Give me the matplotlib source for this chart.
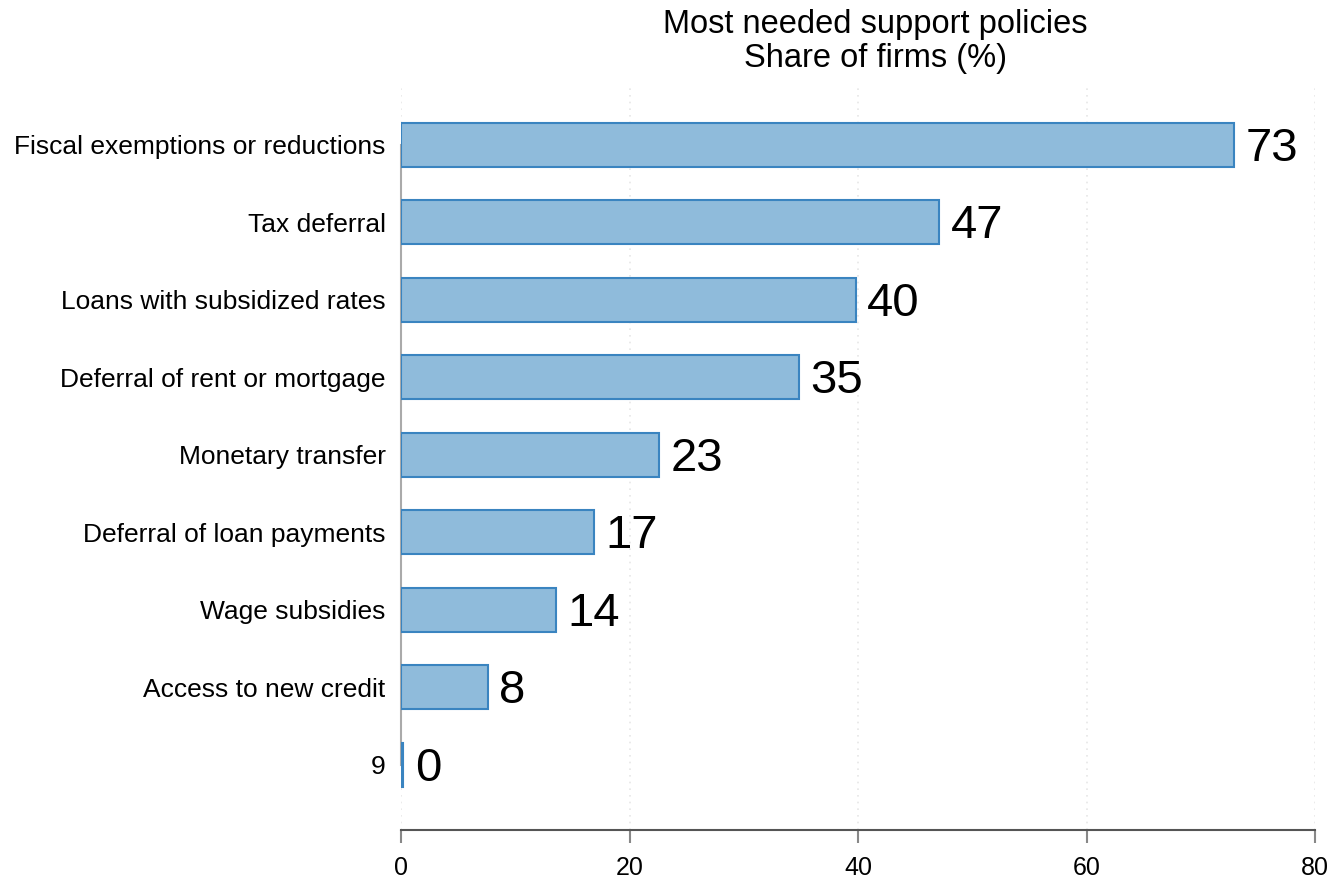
import matplotlib
matplotlib.use('Agg')
import matplotlib.pyplot as plt

# share of firms naming each policy as most needed
policies = ['Fiscal exemptions or reductions', 'Tax deferral', 'Loans with subsidized rates',
            'Deferral of rent or mortgage', 'Monetary transfer', 'Deferral of loan payments',
            'Wage subsidies', 'Access to new credit', '9']
shares = [72.9, 47.1, 39.8, 34.8, 22.6, 16.9, 13.6, 7.6, 0.2]
xticks = [0, 20, 40, 60, 80]

plt.rcParams['font.family'] = ['Liberation Sans', 'DejaVu Sans']

fig = plt.figure(figsize=(13.35, 8.81), dpi=100)
ax = fig.add_axes([401 / 1335, 1 - 830 / 881, 914 / 1335, 745 / 881])

pos = list(range(len(policies)))
ax.barh(pos, shares, height=0.57, color='#8fbbdb', edgecolor='#3a84c0', linewidth=1.5, zorder=3)
for p, v in zip(pos, shares):
    ax.text(v + 1.0, p + 0.05, f'{v:.0f}', va='center', ha='left', fontsize=34, zorder=4)

ax.set_ylim(len(policies) - 1 + 0.84, -0.77)
ax.set_xlim(0, 80)
ax.set_yticks(pos)
ax.set_yticklabels(policies, fontsize=19)
ax.set_xticks(xticks)
ax.set_xticklabels([str(t) for t in xticks], fontsize=18)

# dotted vertical grid like a stata graph
for t in xticks:
    ax.axvline(t, color='#e6e6e6', linestyle=(0, (1, 3)), linewidth=1.2, zorder=1)

for s in ['top', 'right']:
    ax.spines[s].set_visible(False)
ax.spines['left'].set_bounds(0, len(policies) - 1)
ax.spines['left'].set_color('#aaaaaa')
ax.spines['left'].set_linewidth(1.5)
ax.spines['bottom'].set_color('#555555')
ax.spines['bottom'].set_linewidth(1.5)
ax.tick_params(axis='y', length=0, pad=11)
ax.tick_params(axis='x', length=9, width=1.5, color='#888888', pad=10)

fig.text(875 / 1335, 1 - 25 / 881, 'Most needed support policies', ha='center', va='center', fontsize=23.5)
fig.text(875 / 1335, 1 - 59 / 881, 'Share of firms (%)', ha='center', va='center', fontsize=23.5)

plt.savefig('out.png', dpi=100, facecolor='white')
plt.close(fig)
